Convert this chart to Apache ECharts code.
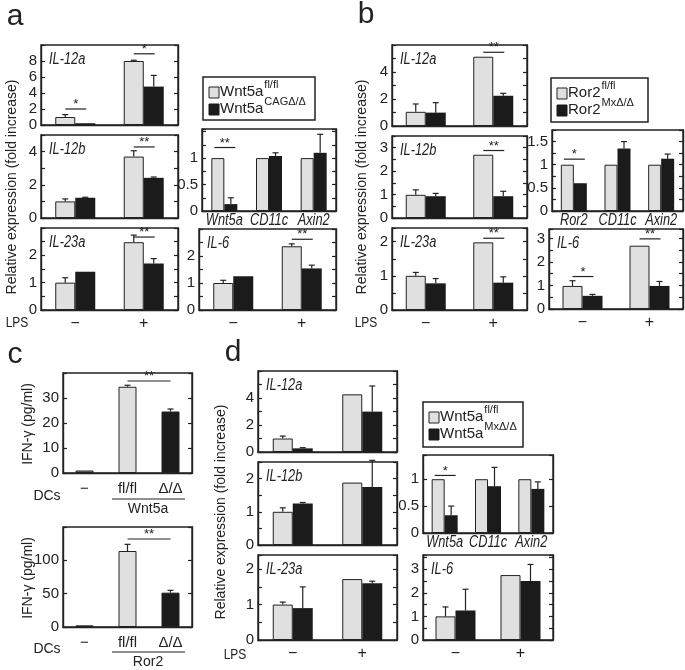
<!DOCTYPE html>
<html><head><meta charset="utf-8">
<script src="https://cdn.jsdelivr.net/npm/echarts@6/dist/echarts.min.js"></script>
<style>html,body{margin:0;padding:0;background:#fff}#c{width:685px;height:670px}</style>
</head><body><div id="c"></div><script>
// ---------------- DATA ----------------
const lpsCats = ['−', '+'];
const genesA = ['Wnt5a', 'CD11c', 'Axin2'];
const genesB = ['Ror2', 'CD11c', 'Axin2'];
const dcCats = ['−', 'fl/fl', 'Δ/Δ'];

// tick labels shown on each y axis
const ticksA1 = [0, 2, 4, 6, 8], ticksA2 = [0, 2, 4], ticksA3 = [0, 1, 2], ticksA4 = [0, 0.5, 1], ticksA5 = [0, 1, 2];
const ticksB1 = [0, 2, 4], ticksB2 = [0, 1, 2, 3], ticksB3 = [0, 1, 2], ticksB4 = [0, 0.5, 1, 1.5], ticksB5 = [0, 1, 2, 3];
const ticksC1 = [0, 10, 20, 30], ticksC2 = [0, 50, 100];
const ticksD1 = [0, 2, 4], ticksD2 = [0, 1, 2], ticksD3 = [0, 1, 2], ticksD4 = [0, 0.5, 1], ticksD5 = [0, 1, 2, 3];

// panel a : Wnt5a fl/fl vs CAGΔ/Δ  (values, upper ends of error bars, significance)
const aIL12aFl = [1.0, 8.0],  aIL12aFlTop = [1.3, 8.1];
const aIL12aKo = [0.22, 4.8], aIL12aKoTop = [null, 6.2];
const aIL12aSig = [[0, 2.0, '*'], [1, 8.9, '*']];
const aIL12bFl = [1.0, 3.7],  aIL12bFlTop = [1.15, 4.05];
const aIL12bKo = [1.22, 2.42], aIL12bKoTop = [1.25, 2.47];
const aIL12bSig = [[1, 4.28, '**']];
const aIL23aFl = [1.0, 2.48], aIL23aFlTop = [1.18, 2.74];
const aIL23aKo = [1.4, 1.7],  aIL23aKoTop = [null, 1.88];
const aIL23aSig = [[1, 2.67, '**']];
const aGeneFl = [1, 1, 1],    aGeneFlTop = [null, null, null];
const aGeneKo = [0.13, 1.04, 1.1], aGeneKoTop = [0.25, 1.1, 1.45];
const aGeneSig = [[0, 1.2, '**']];
const aIL6Fl = [1.0, 2.36],   aIL6FlTop = [1.1, 2.45];
const aIL6Ko = [1.25, 1.54],  aIL6KoTop = [null, 1.66];
const aIL6Sig = [[1, 2.62, '**']];

// panel b : Ror2 fl/fl vs MxΔ/Δ
const bIL12aFl = [1.05, 5.13], bIL12aFlTop = [1.63, null];
const bIL12aKo = [0.99, 2.24], bIL12aKoTop = [1.73, 2.42];
const bIL12aSig = [[1, 5.46, '**']];
const bIL12bFl = [0.99, 2.7],  bIL12bFlTop = [1.2, null];
const bIL12bKo = [0.93, 0.93], bIL12bKoTop = [1.05, 1.14];
const bIL12bSig = [[1, 2.88, '**']];
const bIL23aFl = [1.0, 1.98],  bIL23aFlTop = [1.1, null];
const bIL23aKo = [0.78, 0.8],  bIL23aKoTop = [0.92, 0.97];
const bIL23aSig = [[1, 2.1, '**']];
const bGeneFl = [1, 1, 1],     bGeneFlTop = [null, null, null];
const bGeneKo = [0.6, 1.35, 1.13], bGeneKoTop = [null, 1.5, 1.23];
const bGeneSig = [[0, 1.12, '*']];
const bIL6Fl = [0.98, 2.69],   bIL6FlTop = [1.2, null];
const bIL6Ko = [0.56, 0.98],   bIL6KoTop = [0.62, 1.17];
const bIL6Sig = [[0, 1.38, '*'], [1, 2.98, '**']];

// panel c : IFN-γ (pg/ml)
const cWnt5a = [1.0, 34.5, 24.6], cWnt5aTop = [null, 35.1, 25.6];
const cWnt5aSig = [[1, 2, 36.8, '**']];
const cRor2 = [2.5, 114, 51.5],   cRor2Top = [null, 124, 55];
const cRor2Sig = [[1, 2, 132, '**']];

// panel d : Wnt5a fl/fl vs MxΔ/Δ
const dIL12aFl = [1.0, 4.27], dIL12aFlTop = [1.18, null];
const dIL12aKo = [0.27, 2.99], dIL12aKoTop = [0.32, 4.89];
const dIL12bFl = [1.0, 1.88], dIL12bFlTop = [1.12, null];
const dIL12bKo = [1.25, 1.75], dIL12bKoTop = [1.28, 2.55];
const dIL23aFl = [1.0, 1.72], dIL23aFlTop = [1.07, null];
const dIL23aKo = [0.9, 1.6],  dIL23aKoTop = [1.5, 1.66];
const dGeneFl = [1, 1, 1],    dGeneFlTop = [null, null, null];
const dGeneKo = [0.33, 0.87, 0.82], dGeneKoTop = [0.5, 1.22, 0.95];
const dGeneSig = [[0, 1.07, '*']];
const dIL6Fl = [1.0, 2.75],   dIL6FlTop = [1.4, null];
const dIL6Ko = [1.25, 2.5],   dIL6KoTop = [2.15, 3.2];

// ---------------- STYLE / LAYOUT ----------------
const FONT = "'Liberation Sans', Arial, sans-serif";
const LIGHT = '#e0e0e0', DARK = '#1b1b1b', GRAY = '#8c8c8c', INK = '#222';
const NARROW_SCALE = 0.8;

const grids = [], xAxes = [], yAxes = [], series = [], graphics = [];
const geneAxes = [];

function errSeries(gi, yi, vals, tops, offset) {
  const d = [];
  tops.forEach((t, i) => { if (t != null) d.push([i, vals[i], t]); });
  return {
    type: 'custom', xAxisIndex: gi, yAxisIndex: yi, z: 5, silent: true, data: d,
    renderItem: (params, api) => {
      const x = api.coord([api.value(0), 0])[0] + offset;
      const yb = api.coord([api.value(0), api.value(1)])[1];
      const yt = api.coord([api.value(0), api.value(2)])[1];
      return { type: 'group', children: [
        { type: 'line', shape: { x1: x, y1: yb, x2: x, y2: yt }, style: { stroke: INK, lineWidth: 1.2 } },
        { type: 'line', shape: { x1: x - 3, y1: yt, x2: x + 3, y2: yt }, style: { stroke: INK, lineWidth: 1.2 } }
      ] };
    }
  };
}

function sigSeries(gi, yi, list, between) {
  return {
    type: 'custom', xAxisIndex: gi, yAxisIndex: yi, z: 6, silent: true,
    data: list.map(s => between ? [s[0], s[2]] : [s[0], s[1]]),
    renderItem: (params, api) => {
      const s = list[params.dataIndex];
      let x1, x2, y, lab;
      if (between) {
        x1 = api.coord([s[0], 0])[0]; x2 = api.coord([s[1], 0])[0];
        y = api.coord([s[0], s[2]])[1]; lab = s[3];
      } else {
        const c = api.coord([s[0], 0])[0];
        x1 = c - 10; x2 = c + 11;
        y = api.coord([s[0], s[1]])[1]; lab = s[2];
      }
      return { type: 'group', children: [
        { type: 'line', shape: { x1, y1: y, x2, y2: y }, style: { stroke: INK, lineWidth: 1.2 } },
        { type: 'text', x: (x1 + x2) / 2, y: y + 2,
          style: { text: lab, fill: INK, font: '13px ' + FONT, align: 'center', verticalAlign: 'bottom', textAlign: 'center', textVerticalAlign: 'bottom' } }
      ] };
    }
  };
}

function narrowText(x, y, s, font, align) {
  graphics.push({ type: 'text', x, y, scaleX: NARROW_SCALE,
    style: { text: s, fill: INK, font, textAlign: align, textVerticalAlign: 'middle', align: align, verticalAlign: 'middle' } });
}

function addPlot(p) {
  const gi = grids.length;
  grids.push({ left: p.box[0], top: p.box[1], width: p.box[2], height: p.box[3], show: true,
    borderColor: INK, borderWidth: 1.4, backgroundColor: 'transparent' });
  let xl = { show: false };
  if (p.xlab === 'lps') xl = { show: true, fontSize: 16, color: INK, fontFamily: FONT, margin: 6 };
  if (p.xlab === 'dc') xl = { show: true, fontSize: 15, color: INK, fontFamily: FONT, margin: 8, interval: 0 };
  if (p.xlab === 'gene') geneAxes.push({ gi, cats: p.cats, bottom: p.box[1] + p.box[3] });
  xAxes.push({ type: 'category', gridIndex: gi, data: p.cats,
    axisLine: { show: true, lineStyle: { color: INK, width: 1.4 } }, axisTick: { show: false }, axisLabel: xl });
  const base = { type: 'value', gridIndex: gi, min: 0, max: p.ymax, interval: p.interval,
    splitLine: { show: false }, axisLine: { show: true, lineStyle: { color: INK, width: 1.4 } },
    axisTick: { show: true, inside: true, length: 4, lineStyle: { color: INK, width: 1.2 } } };
  yAxes.push(Object.assign({}, base, { position: 'left', axisLabel: { show: true, fontSize: 15, color: INK, fontFamily: FONT, margin: 4,
    showMaxLabel: true, formatter: v => p.labels.some(l => Math.abs(l - v) < 1e-6) ? String(v) : '' } }));
  yAxes.push(Object.assign({}, base, { position: 'right', axisLabel: { show: false } }));
  const yi = yAxes.length - 2;
  const bw = p.bw;
  if (p.single) {
    series.push({ type: 'bar', xAxisIndex: gi, yAxisIndex: yi, data: p.vals, barWidth: bw, silent: true,
      itemStyle: { color: pp => p.colors[pp.dataIndex], borderColor: INK, borderWidth: 1 } });
    series.push(errSeries(gi, yi, p.vals, p.tops, 0));
    if (p.sig) series.push(sigSeries(gi, yi, p.sig, true));
  } else {
    series.push({ type: 'bar', xAxisIndex: gi, yAxisIndex: yi, data: p.fl, barWidth: bw, barGap: '0%', silent: true,
      itemStyle: { color: LIGHT, borderColor: INK, borderWidth: 1 } });
    series.push({ type: 'bar', xAxisIndex: gi, yAxisIndex: yi, data: p.ko, barWidth: bw, barGap: '0%', silent: true,
      itemStyle: { color: DARK, borderColor: DARK, borderWidth: 0 } });
    series.push(errSeries(gi, yi, p.fl, p.flTop, -bw / 2));
    series.push(errSeries(gi, yi, p.ko, p.koTop, bw / 2));
    if (p.sig) series.push(sigSeries(gi, yi, p.sig, false));
  }
  if (p.title) narrowText(p.box[0] + 8, p.box[1] + 15, p.title, 'italic 16px ' + FONT, 'left');
}

// panel a
addPlot({ box: [41, 45, 137, 80], cats: lpsCats, ymax: 10, interval: 2, labels: ticksA1, bw: 20, fl: aIL12aFl, flTop: aIL12aFlTop, ko: aIL12aKo, koTop: aIL12aKoTop, sig: aIL12aSig, title: 'IL-12a' });
addPlot({ box: [41, 135, 137, 83], cats: lpsCats, ymax: 5, interval: 1, labels: ticksA2, bw: 20, fl: aIL12bFl, flTop: aIL12bFlTop, ko: aIL12bKo, koTop: aIL12bKoTop, sig: aIL12bSig, title: 'IL-12b' });
addPlot({ box: [41, 228, 137, 82], cats: lpsCats, xlab: 'lps', ymax: 3, interval: 0.5, labels: ticksA3, bw: 20, fl: aIL23aFl, flTop: aIL23aFlTop, ko: aIL23aKo, koTop: aIL23aKoTop, sig: aIL23aSig, title: 'IL-23a' });
addPlot({ box: [202, 129, 134, 82], cats: genesA, xlab: 'gene', ymax: 1.55, interval: 0.25, labels: ticksA4, bw: 13, fl: aGeneFl, flTop: aGeneFlTop, ko: aGeneKo, koTop: aGeneKoTop, sig: aGeneSig });
addPlot({ box: [199, 229, 137, 81], cats: lpsCats, xlab: 'lps', ymax: 3, interval: 0.5, labels: ticksA5, bw: 20, fl: aIL6Fl, flTop: aIL6FlTop, ko: aIL6Ko, koTop: aIL6KoTop, sig: aIL6Sig, title: 'IL-6' });
// panel b
addPlot({ box: [392, 45, 135, 81], cats: lpsCats, ymax: 6, interval: 1, labels: ticksB1, bw: 20, fl: bIL12aFl, flTop: bIL12aFlTop, ko: bIL12aKo, koTop: bIL12aKoTop, sig: bIL12aSig, title: 'IL-12a' });
addPlot({ box: [392, 136, 135, 82], cats: lpsCats, ymax: 3.5, interval: 0.5, labels: ticksB2, bw: 20, fl: bIL12bFl, flTop: bIL12bFlTop, ko: bIL12bKo, koTop: bIL12bKoTop, sig: bIL12bSig, title: 'IL-12b' });
addPlot({ box: [392, 228, 135, 82], cats: lpsCats, xlab: 'lps', ymax: 2.4, interval: 0.5, labels: ticksB3, bw: 20, fl: bIL23aFl, flTop: bIL23aFlTop, ko: bIL23aKo, koTop: bIL23aKoTop, sig: bIL23aSig, title: 'IL-23a' });
addPlot({ box: [552, 130, 131, 81], cats: genesB, xlab: 'gene', ymax: 1.75, interval: 0.25, labels: ticksB4, bw: 13, fl: bGeneFl, flTop: bGeneFlTop, ko: bGeneKo, koTop: bGeneKoTop, sig: bGeneSig });
addPlot({ box: [549, 229, 134, 80], cats: lpsCats, xlab: 'lps', ymax: 3.4, interval: 0.5, labels: ticksB5, bw: 20, fl: bIL6Fl, flTop: bIL6FlTop, ko: bIL6Ko, koTop: bIL6KoTop, sig: bIL6Sig, title: 'IL-6' });
// panel c
addPlot({ box: [63, 373, 129, 100], cats: dcCats, xlab: 'dc', ymax: 40, interval: 10, labels: ticksC1, bw: 18, single: true, vals: cWnt5a, tops: cWnt5aTop, colors: [GRAY, LIGHT, DARK], sig: cWnt5aSig });
addPlot({ box: [63, 527, 129, 100], cats: dcCats, xlab: 'dc', ymax: 150, interval: 50, labels: ticksC2, bw: 18, single: true, vals: cRor2, tops: cRor2Top, colors: [GRAY, LIGHT, DARK], sig: cRor2Sig });
// panel d
addPlot({ box: [258, 371, 139, 81], cats: lpsCats, ymax: 6, interval: 1, labels: ticksD1, bw: 20, fl: dIL12aFl, flTop: dIL12aFlTop, ko: dIL12aKo, koTop: dIL12aKoTop, title: 'IL-12a' });
addPlot({ box: [258, 462, 139, 83], cats: lpsCats, ymax: 2.5, interval: 0.5, labels: ticksD2, bw: 20, fl: dIL12bFl, flTop: dIL12bFlTop, ko: dIL12bKo, koTop: dIL12bKoTop, title: 'IL-12b' });
addPlot({ box: [258, 555, 139, 85], cats: lpsCats, xlab: 'lps', ymax: 2.4, interval: 0.5, labels: ticksD3, bw: 20, fl: dIL23aFl, flTop: dIL23aFlTop, ko: dIL23aKo, koTop: dIL23aKoTop, title: 'IL-23a' });
addPlot({ box: [423, 455, 130, 78], cats: genesA, xlab: 'gene', ymax: 1.45, interval: 0.5, labels: ticksD4, bw: 13, fl: dGeneFl, flTop: dGeneFlTop, ko: dGeneKo, koTop: dGeneKoTop, sig: dGeneSig });
addPlot({ box: [423, 555, 130, 85], cats: lpsCats, xlab: 'lps', ymax: 3.6, interval: 0.5, labels: ticksD5, bw: 20, fl: dIL6Fl, flTop: dIL6FlTop, ko: dIL6Ko, koTop: dIL6KoTop, title: 'IL-6' });

// ---------------- annotations ----------------
function txt(x, y, s, font, extra) {
  graphics.push(Object.assign({ type: 'text', x, y,
    style: { text: s, fill: INK, font, textAlign: 'center', textVerticalAlign: 'middle', align: 'center', verticalAlign: 'middle' } }, extra || {}));
}
// panel letters
txt(15, 17, 'a', '30px ' + FONT); txt(366, 15, 'b', '30px ' + FONT);
txt(15, 355, 'c', '30px ' + FONT); txt(233, 353, 'd', '30px ' + FONT);
// y titles
const yTitle = 'Relative expression (fold increase)';
txt(12, 187, yTitle, '14px ' + FONT, { rotation: Math.PI / 2 });
txt(362, 187, yTitle, '14px ' + FONT, { rotation: Math.PI / 2 });
txt(221, 512, yTitle, '14px ' + FONT, { rotation: Math.PI / 2 });
txt(28, 424, 'IFN-γ (pg/ml)', '14px ' + FONT, { rotation: Math.PI / 2 });
txt(28, 578, 'IFN-γ (pg/ml)', '14px ' + FONT, { rotation: Math.PI / 2 });
// LPS
narrowText(17, 323, 'LPS', '15px ' + FONT, 'center');
narrowText(366, 323, 'LPS', '15px ' + FONT, 'center');
narrowText(235, 655, 'LPS', '15px ' + FONT, 'center');
// DCs rows
txt(47, 496, 'DCs', '14px ' + FONT); txt(47, 649, 'DCs', '14px ' + FONT);
graphics.push({ type: 'line', shape: { x1: 112, y1: 499, x2: 185, y2: 499 }, style: { stroke: INK, lineWidth: 1.2 } });
graphics.push({ type: 'line', shape: { x1: 112, y1: 652, x2: 185, y2: 652 }, style: { stroke: INK, lineWidth: 1.2 } });
txt(148, 509, 'Wnt5a', '14px ' + FONT); txt(148, 662, 'Ror2', '14px ' + FONT);

// legends
const mctx = document.createElement('canvas').getContext('2d');
function legend(x, y, w, h, name, sup1, sup2) {
  graphics.push({ type: 'rect', shape: { x, y, width: w, height: h }, style: { fill: '#fff', stroke: INK, lineWidth: 1.5 } });
  graphics.push({ type: 'rect', shape: { x: x + 6, y: y + 10, width: 10, height: 11 }, style: { fill: LIGHT, stroke: INK, lineWidth: 1 } });
  graphics.push({ type: 'rect', shape: { x: x + 6, y: y + 27, width: 10, height: 11 }, style: { fill: DARK, stroke: DARK, lineWidth: 1 } });
  mctx.font = '15px ' + FONT;
  const tw = mctx.measureText(name).width;
  [[y + 15, y + 8, sup1], [y + 32, y + 25, sup2]].forEach(r => {
    graphics.push({ type: 'text', x: x + 17, y: r[0], style: { text: name, fill: INK, font: '15px ' + FONT, textAlign: 'left', textVerticalAlign: 'middle', align: 'left', verticalAlign: 'middle' } });
    graphics.push({ type: 'text', x: x + 18 + tw, y: r[1], style: { text: r[2], fill: INK, font: '11px ' + FONT, textAlign: 'left', textVerticalAlign: 'middle', align: 'left', verticalAlign: 'middle' } });
  });
}
legend(203, 77, 112, 43, 'Wnt5a', 'fl/fl', 'CAGΔ/Δ');
legend(551, 78, 97, 44, 'Ror2', 'fl/fl', 'MxΔ/Δ');
legend(423, 402, 100, 45, 'Wnt5a', 'fl/fl', 'MxΔ/Δ');

const chart = echarts.init(document.getElementById('c'), null, { renderer: 'canvas' });
chart.setOption({
  animation: false, backgroundColor: '#fff',
  grid: grids, xAxis: xAxes, yAxis: yAxes, series: series
});
// gene category labels (condensed italic), placed at the category positions of each axis
geneAxes.forEach(g => {
  g.cats.forEach((c, i) => {
    const px = chart.convertToPixel({ xAxisIndex: g.gi }, i);
    narrowText(px, g.bottom + 10, c, 'italic 16px ' + FONT, 'center');
  });
});
chart.setOption({ graphic: graphics });
</script></body></html>
